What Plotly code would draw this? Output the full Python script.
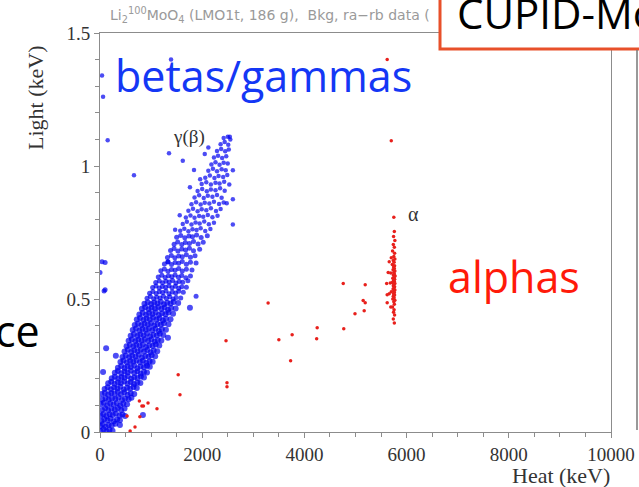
import plotly.graph_objects as go

# ---- data (Heat keV, Light keV) ----
blue_heat = [
    15, 70, 130, 185, 245,
    5, 55, 110, 170, 230, 300,
    30, 85, 150, 205, 270, 335, 390,
    10, 65, 125, 190, 250, 310, 380, 440,
    40, 100, 160, 225, 290, 350, 415, 480,
    15, 75, 140, 200, 265, 330, 395, 455, 530,
    45, 110, 170, 235, 300, 360, 430, 490, 560, 615,
    30, 95, 160, 220, 285, 350, 410, 475, 540, 600, 670,
    90, 150, 215, 275, 340, 400, 465, 530, 590, 655, 720,
    160, 220, 285, 350, 410, 475, 540, 600, 665, 730, 790,
    230, 290, 355, 420, 480, 545, 610, 670, 735, 800, 860,
    290, 350, 415, 480, 540, 605, 670, 730, 795, 860, 920,
    350, 415, 480, 540, 605, 670, 730, 795, 860, 920, 975,
    400, 460, 525, 590, 650, 715, 780, 840, 905, 970, 1030,
    440, 505, 570, 630, 695, 760, 820, 885, 950, 1010, 1080,
    480, 545, 610, 670, 735, 800, 860, 925, 990, 1050, 1120,
    520, 585, 650, 710, 775, 840, 900, 965, 1030, 1090, 1160,
    560, 625, 690, 750, 815, 880, 940, 1005, 1070, 1130, 1200,
    600, 665, 730, 790, 855, 920, 980, 1045, 1110, 1170, 1240,
    640, 705, 770, 830, 895, 960, 1020, 1085, 1150, 1210, 1290,
    680, 745, 810, 870, 935, 1000, 1060, 1125, 1190, 1250, 1340,
    720, 785, 850, 910, 975, 1040, 1100, 1165, 1230, 1290, 1380,
    770, 835, 900, 960, 1025, 1090, 1150, 1215, 1280, 1340, 1430,
    820, 885, 950, 1010, 1075, 1140, 1200, 1265, 1330, 1390, 1480,
    870, 935, 1000, 1060, 1125, 1190, 1250, 1315, 1380, 1440, 1530,
    920, 985, 1050, 1110, 1175, 1240, 1300, 1365, 1430, 1490, 1580,
    970, 1035, 1100, 1160, 1225, 1290, 1350, 1415, 1480, 1540, 1630,
    1030, 1095, 1160, 1220, 1285, 1350, 1410, 1475, 1540, 1600, 1690,
    1090, 1160, 1225, 1290, 1355, 1420, 1485, 1550, 1620, 1720,
    1140, 1210, 1275, 1340, 1405, 1470, 1535, 1600, 1680, 1770,
    1190, 1260, 1330, 1400, 1470, 1540, 1610, 1690, 1800,
    1260, 1330, 1400, 1470, 1540, 1610, 1690, 1770, 1880,
    1320, 1395, 1465, 1540, 1610, 1690, 1770, 1860,
    1380, 1450, 1525, 1600, 1675, 1750, 1830, 1950,
    1450, 1520, 1600, 1670, 1750, 1830, 1920, 2020,
    1500, 1580, 1660, 1740, 1810, 1890, 1980, 2100,
    1570, 1650, 1730, 1810, 1890, 1970, 2060, 2160,
    1620, 1700, 1790, 1870, 1950, 2040, 2130, 2230,
    1680, 1770, 1850, 1940, 2020, 2110, 2200, 2300,
    1730, 1820, 1910, 1990, 2080, 2170, 2270, 2360,
    1790, 1880, 1970, 2050, 2140, 2230, 2330, 2420,
    1850, 1940, 2030, 2110, 2200, 2290, 2380,
    1910, 2000, 2090, 2170, 2260, 2350, 2440,
    1990, 2080, 2170, 2260, 2340, 2430,
    2060, 2150, 2240, 2320, 2410, 2490,
    2120, 2210, 2290, 2380, 2460,
    2180, 2260, 2340, 2420, 2500,
    2230, 2310, 2390, 2470,
    2290, 2370, 2450, 2520,
    2360, 2440, 2510,
    2420, 2500, 2550,
    # band fringe points
    1470, 1330, 1760, 1960, 2050, 2480, 2530, 1560, 1840, 2120,
    # isolated points
    150, 665, 1350, 1620, 2600, 2600, 2600, 40, 100, 0, 80,
    40, 60, 1390, 100, 120, 310, 60, 1760, 1880, 1330, 490, 390, 840, 2540,
]
blue_light = [
    0.004, 0.010, 0.002, 0.008, 0.005,
    0.022, 0.030, 0.020, 0.027, 0.024, 0.031,
    0.041, 0.049, 0.043, 0.050, 0.040, 0.047, 0.044,
    0.062, 0.068, 0.060, 0.067, 0.064, 0.070, 0.061, 0.066,
    0.083, 0.089, 0.081, 0.087, 0.084, 0.090, 0.082, 0.088,
    0.104, 0.110, 0.101, 0.108, 0.103, 0.109, 0.100, 0.107, 0.104,
    0.122, 0.128, 0.121, 0.127, 0.124, 0.130, 0.120, 0.126, 0.123, 0.129,
    0.143, 0.148, 0.141, 0.147, 0.144, 0.150, 0.142, 0.149, 0.140, 0.146, 0.143,
    0.162, 0.168, 0.161, 0.167, 0.164, 0.170, 0.160, 0.166, 0.163, 0.169, 0.165,
    0.183, 0.189, 0.181, 0.187, 0.184, 0.190, 0.182, 0.188, 0.180, 0.186, 0.184,
    0.202, 0.208, 0.201, 0.207, 0.204, 0.210, 0.200, 0.206, 0.203, 0.209, 0.205,
    0.223, 0.229, 0.221, 0.227, 0.224, 0.230, 0.222, 0.228, 0.220, 0.226, 0.224,
    0.242, 0.248, 0.241, 0.247, 0.244, 0.250, 0.240, 0.246, 0.243, 0.249, 0.245,
    0.263, 0.269, 0.261, 0.267, 0.264, 0.270, 0.262, 0.268, 0.260, 0.266, 0.264,
    0.282, 0.288, 0.281, 0.287, 0.284, 0.290, 0.280, 0.286, 0.283, 0.289, 0.285,
    0.303, 0.309, 0.301, 0.307, 0.304, 0.310, 0.302, 0.308, 0.300, 0.306, 0.304,
    0.322, 0.328, 0.321, 0.327, 0.324, 0.330, 0.320, 0.326, 0.323, 0.329, 0.325,
    0.343, 0.349, 0.341, 0.347, 0.344, 0.350, 0.342, 0.348, 0.340, 0.346, 0.344,
    0.362, 0.368, 0.361, 0.367, 0.364, 0.370, 0.360, 0.366, 0.363, 0.369, 0.365,
    0.383, 0.389, 0.381, 0.387, 0.384, 0.390, 0.382, 0.388, 0.380, 0.386, 0.384,
    0.402, 0.408, 0.401, 0.407, 0.404, 0.410, 0.400, 0.406, 0.403, 0.409, 0.405,
    0.423, 0.429, 0.421, 0.427, 0.424, 0.430, 0.422, 0.428, 0.420, 0.426, 0.424,
    0.442, 0.448, 0.441, 0.447, 0.444, 0.450, 0.440, 0.446, 0.443, 0.449, 0.445,
    0.463, 0.469, 0.461, 0.467, 0.464, 0.470, 0.462, 0.468, 0.460, 0.466, 0.464,
    0.482, 0.488, 0.481, 0.487, 0.484, 0.490, 0.480, 0.486, 0.483, 0.489, 0.485,
    0.503, 0.509, 0.501, 0.507, 0.504, 0.510, 0.502, 0.508, 0.500, 0.506, 0.504,
    0.522, 0.528, 0.521, 0.527, 0.524, 0.530, 0.520, 0.526, 0.523, 0.529, 0.525,
    0.543, 0.549, 0.541, 0.547, 0.544, 0.550, 0.542, 0.548, 0.540, 0.546, 0.544,
    0.562, 0.568, 0.561, 0.567, 0.564, 0.570, 0.560, 0.566, 0.563, 0.569,
    0.583, 0.589, 0.581, 0.587, 0.584, 0.590, 0.582, 0.588, 0.580, 0.586,
    0.606, 0.613, 0.604, 0.611, 0.608, 0.615, 0.605, 0.612, 0.609,
    0.632, 0.639, 0.630, 0.637, 0.634, 0.641, 0.631, 0.638, 0.635,
    0.656, 0.664, 0.655, 0.662, 0.659, 0.666, 0.657, 0.663,
    0.682, 0.690, 0.680, 0.688, 0.684, 0.691, 0.681, 0.687,
    0.706, 0.714, 0.705, 0.712, 0.709, 0.716, 0.707, 0.713,
    0.732, 0.739, 0.730, 0.737, 0.734, 0.741, 0.731, 0.738,
    0.757, 0.764, 0.755, 0.762, 0.759, 0.766, 0.756, 0.763,
    0.782, 0.790, 0.780, 0.788, 0.784, 0.791, 0.781, 0.787,
    0.806, 0.814, 0.805, 0.812, 0.809, 0.816, 0.807, 0.813,
    0.832, 0.839, 0.830, 0.837, 0.834, 0.841, 0.831, 0.838,
    0.856, 0.864, 0.855, 0.862, 0.859, 0.866, 0.857, 0.863,
    0.882, 0.890, 0.880, 0.888, 0.884, 0.891, 0.881,
    0.906, 0.914, 0.905, 0.912, 0.909, 0.916, 0.907,
    0.932, 0.939, 0.930, 0.937, 0.934, 0.941,
    0.956, 0.964, 0.955, 0.962, 0.959, 0.966,
    0.982, 0.990, 0.980, 0.988, 0.984,
    1.006, 1.014, 1.005, 1.012, 1.009,
    1.032, 1.039, 1.030, 1.037,
    1.056, 1.064, 1.055, 1.062,
    1.082, 1.090, 1.080,
    1.105, 1.110, 1.100,
    # band fringe points
    0.760, 0.640, 0.920, 0.950, 1.045, 0.860, 0.930, 0.815, 0.985, 1.070,
    # isolated points
    1.097, 0.965, 1.048, 1.020, 0.984, 0.875, 0.780, 0.640, 0.637, 0.600, 0.530,
    1.340, 1.260, 1.400, 0.535, 0.315, 0.287, 0.226, 0.467, 0.510, 0.354, 0.060, 0.026, 0.064, 1.110,
]

red_heat = [
    2466, 2485, 2485, 1530, 1565, 770, 820, 850, 940, 1115, 780, 685, 590, 530,
    3290, 3500, 3760, 3730, 4250, 4240, 4770, 4760, 5190, 5150, 5190, 4990, 5170,
    5610, 5620, 5620, 5750, 5620, 5700,
    5760, 5745, 5770, 5740, 5760, 5725, 5765, 5750, 5700, 5770, 5740, 5755, 5720,
    5765, 5745, 5760, 5735, 5770, 5750, 5690, 5760, 5740, 5775, 5755, 5730, 5765,
    5745, 5760, 5720, 5770, 5750, 5740, 5765, 5755, 5735, 5770, 5750, 5700, 5760,
    5745, 5765, 5740, 5755, 5730, 5770, 5750, 5760, 5725, 5755, 5745, 5765, 5740,
    5760, 5640, 5660, 5680, 5660, 5690,
]
red_light = [
    0.343, 0.185, 0.170, 0.215, 0.140, 0.117, 0.098, 0.098, 0.109, 0.087, 0.057, 0.019, 0.004, 0.060,
    0.485, 0.347, 0.366, 0.268, 0.392, 0.351, 0.388, 0.558, 0.554, 0.494, 0.486, 0.445, 0.456,
    0.558, 0.516, 0.486, 0.807, 1.400, 1.095,
    0.754, 0.735, 0.720, 0.705, 0.695, 0.680, 0.672, 0.660, 0.655, 0.650, 0.645, 0.638, 0.630,
    0.625, 0.620, 0.615, 0.610, 0.605, 0.600, 0.598, 0.594, 0.590, 0.586, 0.582, 0.578, 0.574,
    0.570, 0.566, 0.562, 0.558, 0.554, 0.550, 0.546, 0.542, 0.538, 0.534, 0.530, 0.527, 0.524,
    0.520, 0.515, 0.510, 0.505, 0.500, 0.495, 0.490, 0.480, 0.470, 0.460, 0.450, 0.440, 0.425,
    0.410, 0.600, 0.640, 0.560, 0.520, 0.470,
]

x_major_ticks = [0, 2000, 4000, 6000, 8000, 10000]
x_tick_labels = ["0", "2000", "4000", "6000", "8000", "10000"]
y_major_ticks = [0, 0.5, 1, 1.5]
y_tick_labels = ["0", "0.5", "1", "1.5"]

# ---- layout geometry (pixels) ----
W, H = 639, 487
L, R, T, B = 100, 611, 33, 432

def px(xp):
    return (xp - L) / (R - L)

def py(yp):
    return (B - yp) / (B - T)

SERIF = "Liberation Serif, Times New Roman, serif"
SANS = "Open Sans, sans-serif"
AX = "#8c8c8c"

blue_sizes = [6 if v < 0.5 else (5 if v < 0.75 else 4.5) for v in blue_light]

fig = go.Figure()
fig.add_trace(go.Scatter(x=blue_heat, y=blue_light, mode="markers",
                         marker=dict(color="#0000f0", size=blue_sizes, line=dict(width=0)),
                         hoverinfo="skip", showlegend=False))
fig.add_trace(go.Scatter(x=red_heat, y=red_light, mode="markers",
                         marker=dict(color="#e8201c", size=3.5, line=dict(width=0)),
                         hoverinfo="skip", showlegend=False))

axis_common = dict(showgrid=False, zeroline=False, showline=True, linecolor=AX, linewidth=1,
                   mirror=True, ticks="outside", tickcolor=AX, ticklen=5, tickwidth=1,
                   automargin=False,
                   tickfont=dict(family=SERIF, size=19, color="#333333"))

fig.update_xaxes(range=[0, 10000], tickmode="array", tickvals=x_major_ticks, ticktext=x_tick_labels,
                 minor=dict(dtick=500, ticks="outside", ticklen=4, tickcolor=AX),
                 **axis_common)
fig.update_yaxes(range=[0, 1.5], tickmode="array", tickvals=y_major_ticks, ticktext=y_tick_labels,
                 minor=dict(dtick=0.1, ticks="outside", ticklen=4, tickcolor=AX),
                 **axis_common)

ann = []
# small gray title (partially covered)
ann.append(dict(xref="paper", yref="paper", x=px(108), y=py(15), xanchor="left", yanchor="middle",
                text="Li<sub>2</sub><sup>100</sup>MoO<sub>4</sub> (LMO1t, 186 g),  Bkg, ra\u2212rb data (",
                showarrow=False, font=dict(family="DejaVu Sans, sans-serif", size=14, color="#9a9a9a")))
# axis titles
ann.append(dict(xref="paper", yref="paper", x=px(35), y=py(98), xanchor="center", yanchor="middle",
                text="Light (keV)", textangle=-90, showarrow=False,
                font=dict(family=SERIF, size=22, color="#333333")))
ann.append(dict(xref="paper", yref="paper", x=px(612), y=py(475), xanchor="right", yanchor="middle",
                text="Heat (keV)", showarrow=False,
                font=dict(family=SERIF, size=22, color="#333333")))
# in-plot labels
ann.append(dict(x=1740, y=1.11, text="\u03b3(\u03b2)", showarrow=False,
                font=dict(family=SERIF, size=19, color="#333333")))
ann.append(dict(x=6130, y=0.82, text="\u03b1", showarrow=False,
                font=dict(family=SERIF, size=20, color="#333333")))
# slide overlay texts
ann.append(dict(xref="paper", yref="paper", x=px(113), y=py(75), xanchor="left", yanchor="middle",
                text="betas/gammas", showarrow=False, font=dict(family=SANS, size=43, color="#1437f5")))
ann.append(dict(xref="paper", yref="paper", x=px(446), y=py(276), xanchor="left", yanchor="middle",
                text="alphas", showarrow=False, font=dict(family=SANS, size=43, color="#ff1a0a")))
ann.append(dict(xref="paper", yref="paper", x=px(42), y=py(330), xanchor="right", yanchor="middle",
                text="ce", showarrow=False, font=dict(family=SANS, size=43, color="#000000")))
ann.append(dict(xref="paper", yref="paper", x=px(455), y=py(12), xanchor="left", yanchor="middle",
                text="CUPID-Mo", showarrow=False, font=dict(family=SANS, size=42, color="#000000")))

shapes = [
    dict(type="rect", xref="paper", yref="paper", x0=px(440), x1=px(700), y0=py(49), y1=py(-20),
         line=dict(color="#e8502a", width=3), fillcolor="white", layer="above"),
    dict(type="line", xref="paper", yref="paper", x0=px(637), x1=px(637), y0=py(50), y1=py(430),
         line=dict(color="#777777", width=1.5), layer="above"),
]

fig.update_layout(width=W, height=H, autosize=False, margin=dict(l=L, r=W - R, t=T, b=H - B),
                  paper_bgcolor="white", plot_bgcolor="white",
                  annotations=ann, shapes=shapes)

fig.write_html("out.html")
